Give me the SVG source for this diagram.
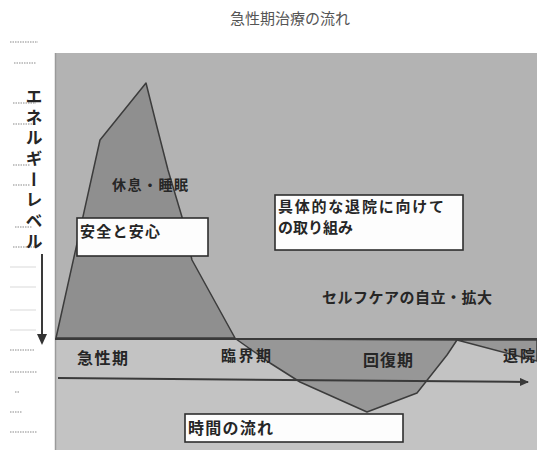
<svg xmlns="http://www.w3.org/2000/svg" width="537" height="450" viewBox="0 0 537 450">
<style>
.jp{font-family:"Noto Sans CJK JP","Noto Sans CJK SC",sans-serif;fill:#262626;font-weight:bold}
.box{fill:#fdfdfd;stroke:#2e2e2e;stroke-width:1.6}
.shape{fill:#8f8f8f;stroke:#3c3c3c;stroke-width:1.5;stroke-linejoin:round}
.ln{stroke:#3a3a3a;stroke-width:2;fill:none}
.mark{stroke:#8a8a8a;stroke-width:1.2;stroke-dasharray:1.5 1}
.faint{stroke:#e6e6e6;stroke-width:1.5}
</style>
<defs>
<marker id="ah" markerWidth="10" markerHeight="10" refX="8" refY="4" orient="auto" markerUnits="userSpaceOnUse">
<path d="M0,0 L9,4 L0,8 Z" fill="#3a3a3a"/>
</marker>
</defs>
<rect width="537" height="450" fill="#ffffff"/>
<text class="jp" x="290" y="24" font-size="15" text-anchor="middle" style="fill:#555;font-weight:normal">急性期治療の流れ</text>
<g id="left-marks">
<line class="mark" x1="10" y1="42" x2="38" y2="42"/>
<line class="mark" x1="14" y1="63" x2="36" y2="63"/>
<line class="mark" x1="13" y1="103" x2="36" y2="103"/>
<line class="mark" x1="13" y1="124" x2="36" y2="124"/>
<line class="mark" x1="13" y1="165" x2="30" y2="165"/>
<line class="mark" x1="13" y1="185" x2="30" y2="185"/>
<line class="mark" x1="15" y1="227" x2="32" y2="227"/>
<line class="mark" x1="13" y1="247" x2="34" y2="247"/>
<line class="faint" x1="10" y1="267" x2="36" y2="267"/>
<line class="faint" x1="10" y1="287" x2="36" y2="287"/>
<line class="faint" x1="10" y1="310" x2="36" y2="310"/>
<line class="faint" x1="10" y1="330" x2="36" y2="330"/>
<line class="mark" x1="10" y1="350" x2="35" y2="350"/>
<line class="mark" x1="10" y1="372" x2="37" y2="372"/>
<line class="mark" x1="15" y1="392" x2="20" y2="392"/>
<line class="mark" x1="10" y1="412" x2="22" y2="412"/>
<line class="mark" x1="10" y1="432" x2="37" y2="432"/>
</g>
<g id="axis-label">
<text class="jp" x="34" y="88" font-size="17" style="writing-mode:vertical-rl;letter-spacing:3.7px">エネルギーレベル</text>
<line x1="42" y1="254" x2="42" y2="336" stroke="#3a3a3a" stroke-width="2"/>
<path d="M37,334 L47,334 L42,345 Z" fill="#333"/>
</g>
<g id="chart-bg">
<rect x="55" y="53" width="482" height="285" fill="#b3b3b3"/>
<rect x="55" y="338" width="482" height="112" fill="#c3c3c3"/>
<line x1="55.5" y1="53" x2="55.5" y2="450" stroke="#9a9a9a" stroke-width="1.5"/>
</g>
<g id="acute-peak">
<polygon class="shape" points="56,338 100,140 146,83 157,127 168,170 182,217 192,260 235,338"/>
</g>
<g id="recovery-valley">
<polygon class="shape" style="fill:#979797" points="236,339 270,363 300,382 367,412 417,393 447,355 457,340"/>
<polygon class="shape" style="fill:#979797" points="457,340 537,340 537,361"/>
</g>
<g id="connectors">
<line class="ln" x1="55" y1="339" x2="537" y2="339"/>
<line class="ln" x1="58" y1="378" x2="528" y2="382" marker-end="url(#ah)"/>
</g>
<g id="rest">
<text class="jp" x="150" y="190" font-size="14" text-anchor="middle" textLength="76">休息・睡眠</text>
</g>
<g id="safety">
<rect class="box" x="77" y="218" width="131" height="38"/>
<text class="jp" x="80" y="237" font-size="15" textLength="80">安全と安心</text>
</g>
<g id="discharge-prep">
<rect class="box" x="275" y="195" width="188" height="55"/>
<text class="jp" x="278" y="212" font-size="15" textLength="166">具体的な退院に向けて</text>
<text class="jp" x="278" y="233" font-size="15">の取り組み</text>
</g>
<g id="selfcare">
<text class="jp" x="407" y="303" font-size="15" text-anchor="middle" textLength="170">セルフケアの自立・拡大</text>
</g>
<g id="phase-acute">
<text class="jp" x="77" y="364" font-size="16" textLength="51">急性期</text>
</g>
<g id="phase-critical">
<text class="jp" x="221" y="361" font-size="15" textLength="50">臨界期</text>
</g>
<g id="phase-recovery">
<text class="jp" x="363" y="366" font-size="16" textLength="50">回復期</text>
</g>
<g id="phase-discharge">
<text class="jp" x="503" y="361" font-size="15" textLength="32">退院</text>
</g>
<g id="time-flow">
<rect class="box" x="185" y="414" width="218" height="28"/>
<text class="jp" x="188" y="434" font-size="16" textLength="85">時間の流れ</text>
</g>
</svg>
